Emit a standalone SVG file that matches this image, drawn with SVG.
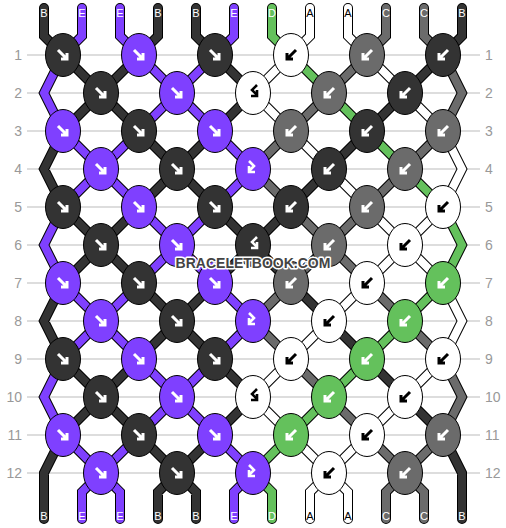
<svg xmlns="http://www.w3.org/2000/svg" xmlns:xlink="http://www.w3.org/1999/xlink" width="506" height="528" viewBox="0 0 506 528">
<style>
.grid line{stroke:#bbb;stroke-width:1}
.num{font-family:"Liberation Sans",Arial,sans-serif;font-size:14px;fill:#999}
.lbl{font-family:"Liberation Sans",Arial,sans-serif;font-size:11px;fill:#fff;text-anchor:middle}
.lbl .dk{fill:#000}
.str{fill:none;stroke-linejoin:miter;stroke-linecap:round}
.outline{stroke:#000;stroke-width:10}
.knot ellipse{stroke:#000;stroke-width:1;rx:17.5px;ry:21.5px}
.kB{fill:#333}.kE{fill:#7f40ff}.kD{fill:#64c15c}.kA{fill:#fff}.kC{fill:#6b6b6b}
.aw{stroke:#fff}.ak{stroke:#000}
.wm{font-family:"Liberation Sans",Arial,sans-serif;font-size:14px;font-weight:bold;fill:#444;stroke:#fff;stroke-width:3;paint-order:stroke;text-anchor:middle;stroke-linejoin:round}
</style>
<defs>
<path id="af" fill="none" stroke-width="3" d="M-5,-5L4,4M4,-2V4H-2"/>
<path id="ab" fill="none" stroke-width="3" d="M5,-5L-4,4M-4,-2V4H2"/>
<path id="afb" fill="none" stroke-width="2.6" d="M-4,-8L1,-3L-4,2M-4,-3V3H2"/>
<path id="abf" fill="none" stroke-width="2.6" d="M4,-8L-1,-3L4,2M4,-3V3H-2"/>
<path id="sB" d="M44,8V36L63,55M158,8V36L139,55M196,8V36L215,55M462,8V36L443,55M63,435L44,473V519M443,435L462,473V519M177,473L158,492V519M177,473L196,492V519M63,131L44,169L63,207M63,283L44,321L63,359M63,55L101,93M139,55L101,93M215,55L253,93M443,55L405,93M101,93L63,131M101,93L139,131M253,93L215,131M405,93L367,131M139,131L177,169M215,131L177,169M367,131L329,169M177,169L139,207M177,169L215,207M329,169L291,207M63,207L101,245M139,207L101,245M215,207L253,245M291,207L253,245M101,245L63,283M101,245L139,283M253,245L215,283M253,245L291,283M139,283L177,321M215,283L177,321M291,283L329,321M177,321L139,359M177,321L215,359M329,321L367,359M63,359L101,397M139,359L101,397M215,359L253,397M367,359L405,397M101,397L63,435M101,397L139,435M253,397L215,435M405,397L443,435M139,435L177,473M215,435L177,473"/>
<path id="sE" d="M82,8V36L63,55M120,8V36L139,55M234,8V36L215,55M101,473L82,492V519M101,473L120,492V519M253,473L234,492V519M63,55L44,93L63,131M63,207L44,245L63,283M63,359L44,397L63,435M139,55L177,93M215,55L177,93M177,93L139,131M177,93L215,131M63,131L101,169M139,131L101,169M215,131L253,169M101,169L63,207M101,169L139,207M253,169L215,207M139,207L177,245M215,207L177,245M177,245L139,283M177,245L215,283M63,283L101,321M139,283L101,321M215,283L253,321M101,321L63,359M101,321L139,359M253,321L215,359M139,359L177,397M215,359L177,397M177,397L139,435M177,397L215,435M63,435L101,473M139,435L101,473M215,435L253,473"/>
<path id="sD" d="M272,8V36L291,55M253,473L272,492V519M443,207L462,245L443,283M291,55L329,93M329,93L367,131M367,131L405,169M405,169L443,207M443,283L405,321M405,321L367,359M367,359L329,397M329,397L291,435M291,435L253,473"/>
<path id="sA" d="M310,8V36L291,55M348,8V36L367,55M329,473L310,492V519M329,473L348,492V519M443,131L462,169L443,207M443,283L462,321L443,359M291,55L253,93M367,55L405,93M253,93L291,131M405,93L443,131M291,131L329,169M329,169L367,207M367,207L405,245M443,207L405,245M405,245L367,283M405,245L443,283M367,283L329,321M329,321L291,359M291,359L253,397M443,359L405,397M253,397L291,435M405,397L367,435M291,435L329,473M367,435L329,473"/>
<path id="sC" d="M386,8V36L367,55M424,8V36L443,55M405,473L386,492V519M405,473L424,492V519M443,55L462,93L443,131M443,359L462,397L443,435M367,55L329,93M329,93L291,131M291,131L253,169M443,131L405,169M253,169L291,207M405,169L367,207M291,207L329,245M367,207L329,245M329,245L291,283M329,245L367,283M291,283L253,321M367,283L405,321M253,321L291,359M405,321L443,359M291,359L329,397M329,397L367,435M367,435L405,473M443,435L405,473"/>
</defs>
<rect width="506" height="528" fill="#fff"/>
<g id="grid" class="grid">
<line x1="27" x2="480" y1="55" y2="55"/><line x1="27" x2="480" y1="93" y2="93"/><line x1="27" x2="480" y1="131" y2="131"/><line x1="27" x2="480" y1="169" y2="169"/><line x1="27" x2="480" y1="207" y2="207"/><line x1="27" x2="480" y1="245" y2="245"/><line x1="27" x2="480" y1="283" y2="283"/><line x1="27" x2="480" y1="321" y2="321"/><line x1="27" x2="480" y1="359" y2="359"/><line x1="27" x2="480" y1="397" y2="397"/><line x1="27" x2="480" y1="435" y2="435"/><line x1="27" x2="480" y1="473" y2="473"/>
</g>
<g id="row-numbers" class="num">
<g text-anchor="end">
<text x="22" y="60">1</text><text x="22" y="98">2</text><text x="22" y="136">3</text><text x="22" y="174">4</text><text x="22" y="212">5</text><text x="22" y="250">6</text><text x="22" y="288">7</text><text x="22" y="326">8</text><text x="22" y="364">9</text><text x="22" y="402">10</text><text x="22" y="440">11</text><text x="22" y="478">12</text>
</g>
<g text-anchor="start">
<text x="485" y="60">1</text><text x="485" y="98">2</text><text x="485" y="136">3</text><text x="485" y="174">4</text><text x="485" y="212">5</text><text x="485" y="250">6</text><text x="485" y="288">7</text><text x="485" y="326">8</text><text x="485" y="364">9</text><text x="485" y="402">10</text><text x="485" y="440">11</text><text x="485" y="478">12</text>
</g>
</g>
<g id="connectors" class="str">
<g class="outline">
<use href="#sB"/><use href="#sE"/><use href="#sD"/><use href="#sA"/><use href="#sC"/>
</g>
<g stroke-width="8">
<use href="#sB" stroke="#333"/><use href="#sE" stroke="#7f40ff"/><use href="#sD" stroke="#64c15c"/><use href="#sA" stroke="#fff"/><use href="#sC" stroke="#6b6b6b"/>
</g>
</g>
<g id="knots" class="knot">
<g id="k1-1" transform="translate(63,55)"><ellipse class="kB" rx="17.5" ry="21.5"/><use href="#af" class="aw"/></g>
<g id="k1-2" transform="translate(139,55)"><ellipse class="kE" rx="17.5" ry="21.5"/><use href="#af" class="aw"/></g>
<g id="k1-3" transform="translate(215,55)"><ellipse class="kB" rx="17.5" ry="21.5"/><use href="#af" class="aw"/></g>
<g id="k1-4" transform="translate(291,55)"><ellipse class="kA" rx="17.5" ry="21.5"/><use href="#ab" class="ak"/></g>
<g id="k1-5" transform="translate(367,55)"><ellipse class="kC" rx="17.5" ry="21.5"/><use href="#ab" class="aw"/></g>
<g id="k1-6" transform="translate(443,55)"><ellipse class="kB" rx="17.5" ry="21.5"/><use href="#ab" class="aw"/></g>
<g id="k2-1" transform="translate(101,93)"><ellipse class="kB" rx="17.5" ry="21.5"/><use href="#af" class="aw"/></g>
<g id="k2-2" transform="translate(177,93)"><ellipse class="kE" rx="17.5" ry="21.5"/><use href="#af" class="aw"/></g>
<g id="k2-3" transform="translate(253,93)"><ellipse class="kA" rx="17.5" ry="21.5"/><use href="#abf" class="ak"/></g>
<g id="k2-4" transform="translate(329,93)"><ellipse class="kC" rx="17.5" ry="21.5"/><use href="#ab" class="aw"/></g>
<g id="k2-5" transform="translate(405,93)"><ellipse class="kB" rx="17.5" ry="21.5"/><use href="#ab" class="aw"/></g>
<g id="k3-1" transform="translate(63,131)"><ellipse class="kE" rx="17.5" ry="21.5"/><use href="#af" class="aw"/></g>
<g id="k3-2" transform="translate(139,131)"><ellipse class="kB" rx="17.5" ry="21.5"/><use href="#af" class="aw"/></g>
<g id="k3-3" transform="translate(215,131)"><ellipse class="kE" rx="17.5" ry="21.5"/><use href="#af" class="aw"/></g>
<g id="k3-4" transform="translate(291,131)"><ellipse class="kC" rx="17.5" ry="21.5"/><use href="#ab" class="aw"/></g>
<g id="k3-5" transform="translate(367,131)"><ellipse class="kB" rx="17.5" ry="21.5"/><use href="#ab" class="aw"/></g>
<g id="k3-6" transform="translate(443,131)"><ellipse class="kC" rx="17.5" ry="21.5"/><use href="#ab" class="aw"/></g>
<g id="k4-1" transform="translate(101,169)"><ellipse class="kE" rx="17.5" ry="21.5"/><use href="#af" class="aw"/></g>
<g id="k4-2" transform="translate(177,169)"><ellipse class="kB" rx="17.5" ry="21.5"/><use href="#af" class="aw"/></g>
<g id="k4-3" transform="translate(253,169)"><ellipse class="kE" rx="17.5" ry="21.5"/><use href="#afb" class="aw"/></g>
<g id="k4-4" transform="translate(329,169)"><ellipse class="kB" rx="17.5" ry="21.5"/><use href="#ab" class="aw"/></g>
<g id="k4-5" transform="translate(405,169)"><ellipse class="kC" rx="17.5" ry="21.5"/><use href="#ab" class="aw"/></g>
<g id="k5-1" transform="translate(63,207)"><ellipse class="kB" rx="17.5" ry="21.5"/><use href="#af" class="aw"/></g>
<g id="k5-2" transform="translate(139,207)"><ellipse class="kE" rx="17.5" ry="21.5"/><use href="#af" class="aw"/></g>
<g id="k5-3" transform="translate(215,207)"><ellipse class="kB" rx="17.5" ry="21.5"/><use href="#af" class="aw"/></g>
<g id="k5-4" transform="translate(291,207)"><ellipse class="kB" rx="17.5" ry="21.5"/><use href="#ab" class="aw"/></g>
<g id="k5-5" transform="translate(367,207)"><ellipse class="kC" rx="17.5" ry="21.5"/><use href="#ab" class="aw"/></g>
<g id="k5-6" transform="translate(443,207)"><ellipse class="kA" rx="17.5" ry="21.5"/><use href="#ab" class="ak"/></g>
<g id="k6-1" transform="translate(101,245)"><ellipse class="kB" rx="17.5" ry="21.5"/><use href="#af" class="aw"/></g>
<g id="k6-2" transform="translate(177,245)"><ellipse class="kE" rx="17.5" ry="21.5"/><use href="#af" class="aw"/></g>
<g id="k6-3" transform="translate(253,245)"><ellipse class="kB" rx="17.5" ry="21.5"/><use href="#abf" class="aw"/></g>
<g id="k6-4" transform="translate(329,245)"><ellipse class="kC" rx="17.5" ry="21.5"/><use href="#ab" class="aw"/></g>
<g id="k6-5" transform="translate(405,245)"><ellipse class="kA" rx="17.5" ry="21.5"/><use href="#ab" class="ak"/></g>
<g id="k7-1" transform="translate(63,283)"><ellipse class="kE" rx="17.5" ry="21.5"/><use href="#af" class="aw"/></g>
<g id="k7-2" transform="translate(139,283)"><ellipse class="kB" rx="17.5" ry="21.5"/><use href="#af" class="aw"/></g>
<g id="k7-3" transform="translate(215,283)"><ellipse class="kE" rx="17.5" ry="21.5"/><use href="#af" class="aw"/></g>
<g id="k7-4" transform="translate(291,283)"><ellipse class="kC" rx="17.5" ry="21.5"/><use href="#ab" class="aw"/></g>
<g id="k7-5" transform="translate(367,283)"><ellipse class="kA" rx="17.5" ry="21.5"/><use href="#ab" class="ak"/></g>
<g id="k7-6" transform="translate(443,283)"><ellipse class="kD" rx="17.5" ry="21.5"/><use href="#ab" class="aw"/></g>
<g id="k8-1" transform="translate(101,321)"><ellipse class="kE" rx="17.5" ry="21.5"/><use href="#af" class="aw"/></g>
<g id="k8-2" transform="translate(177,321)"><ellipse class="kB" rx="17.5" ry="21.5"/><use href="#af" class="aw"/></g>
<g id="k8-3" transform="translate(253,321)"><ellipse class="kE" rx="17.5" ry="21.5"/><use href="#afb" class="aw"/></g>
<g id="k8-4" transform="translate(329,321)"><ellipse class="kA" rx="17.5" ry="21.5"/><use href="#ab" class="ak"/></g>
<g id="k8-5" transform="translate(405,321)"><ellipse class="kD" rx="17.5" ry="21.5"/><use href="#ab" class="aw"/></g>
<g id="k9-1" transform="translate(63,359)"><ellipse class="kB" rx="17.5" ry="21.5"/><use href="#af" class="aw"/></g>
<g id="k9-2" transform="translate(139,359)"><ellipse class="kE" rx="17.5" ry="21.5"/><use href="#af" class="aw"/></g>
<g id="k9-3" transform="translate(215,359)"><ellipse class="kB" rx="17.5" ry="21.5"/><use href="#af" class="aw"/></g>
<g id="k9-4" transform="translate(291,359)"><ellipse class="kA" rx="17.5" ry="21.5"/><use href="#ab" class="ak"/></g>
<g id="k9-5" transform="translate(367,359)"><ellipse class="kD" rx="17.5" ry="21.5"/><use href="#ab" class="aw"/></g>
<g id="k9-6" transform="translate(443,359)"><ellipse class="kA" rx="17.5" ry="21.5"/><use href="#ab" class="ak"/></g>
<g id="k10-1" transform="translate(101,397)"><ellipse class="kB" rx="17.5" ry="21.5"/><use href="#af" class="aw"/></g>
<g id="k10-2" transform="translate(177,397)"><ellipse class="kE" rx="17.5" ry="21.5"/><use href="#af" class="aw"/></g>
<g id="k10-3" transform="translate(253,397)"><ellipse class="kA" rx="17.5" ry="21.5"/><use href="#abf" class="ak"/></g>
<g id="k10-4" transform="translate(329,397)"><ellipse class="kD" rx="17.5" ry="21.5"/><use href="#ab" class="aw"/></g>
<g id="k10-5" transform="translate(405,397)"><ellipse class="kA" rx="17.5" ry="21.5"/><use href="#ab" class="ak"/></g>
<g id="k11-1" transform="translate(63,435)"><ellipse class="kE" rx="17.5" ry="21.5"/><use href="#af" class="aw"/></g>
<g id="k11-2" transform="translate(139,435)"><ellipse class="kB" rx="17.5" ry="21.5"/><use href="#af" class="aw"/></g>
<g id="k11-3" transform="translate(215,435)"><ellipse class="kE" rx="17.5" ry="21.5"/><use href="#af" class="aw"/></g>
<g id="k11-4" transform="translate(291,435)"><ellipse class="kD" rx="17.5" ry="21.5"/><use href="#ab" class="aw"/></g>
<g id="k11-5" transform="translate(367,435)"><ellipse class="kA" rx="17.5" ry="21.5"/><use href="#ab" class="ak"/></g>
<g id="k11-6" transform="translate(443,435)"><ellipse class="kC" rx="17.5" ry="21.5"/><use href="#ab" class="aw"/></g>
<g id="k12-1" transform="translate(101,473)"><ellipse class="kE" rx="17.5" ry="21.5"/><use href="#af" class="aw"/></g>
<g id="k12-2" transform="translate(177,473)"><ellipse class="kB" rx="17.5" ry="21.5"/><use href="#af" class="aw"/></g>
<g id="k12-3" transform="translate(253,473)"><ellipse class="kE" rx="17.5" ry="21.5"/><use href="#afb" class="aw"/></g>
<g id="k12-4" transform="translate(329,473)"><ellipse class="kA" rx="17.5" ry="21.5"/><use href="#ab" class="ak"/></g>
<g id="k12-5" transform="translate(405,473)"><ellipse class="kC" rx="17.5" ry="21.5"/><use href="#ab" class="aw"/></g>
</g>
<g id="labels-top" class="lbl">
<text x="44" y="17">B</text><text x="82" y="17">E</text><text x="120" y="17">E</text><text x="158" y="17">B</text><text x="196" y="17">B</text><text x="234" y="17">E</text><text x="272" y="17">D</text><text x="310" y="17" class="dk">A</text><text x="348" y="17" class="dk">A</text><text x="386" y="17">C</text><text x="424" y="17">C</text><text x="462" y="17">B</text>
</g>
<g id="labels-bottom" class="lbl">
<text x="44" y="520">B</text><text x="82" y="520">E</text><text x="120" y="520">E</text><text x="158" y="520">B</text><text x="196" y="520">B</text><text x="234" y="520">E</text><text x="272" y="520">D</text><text x="310" y="520" class="dk">A</text><text x="348" y="520" class="dk">A</text><text x="386" y="520">C</text><text x="424" y="520">C</text><text x="462" y="520">B</text>
</g>
<text class="wm" x="253" y="268">BRACELETBOOK.COM</text>
</svg>
